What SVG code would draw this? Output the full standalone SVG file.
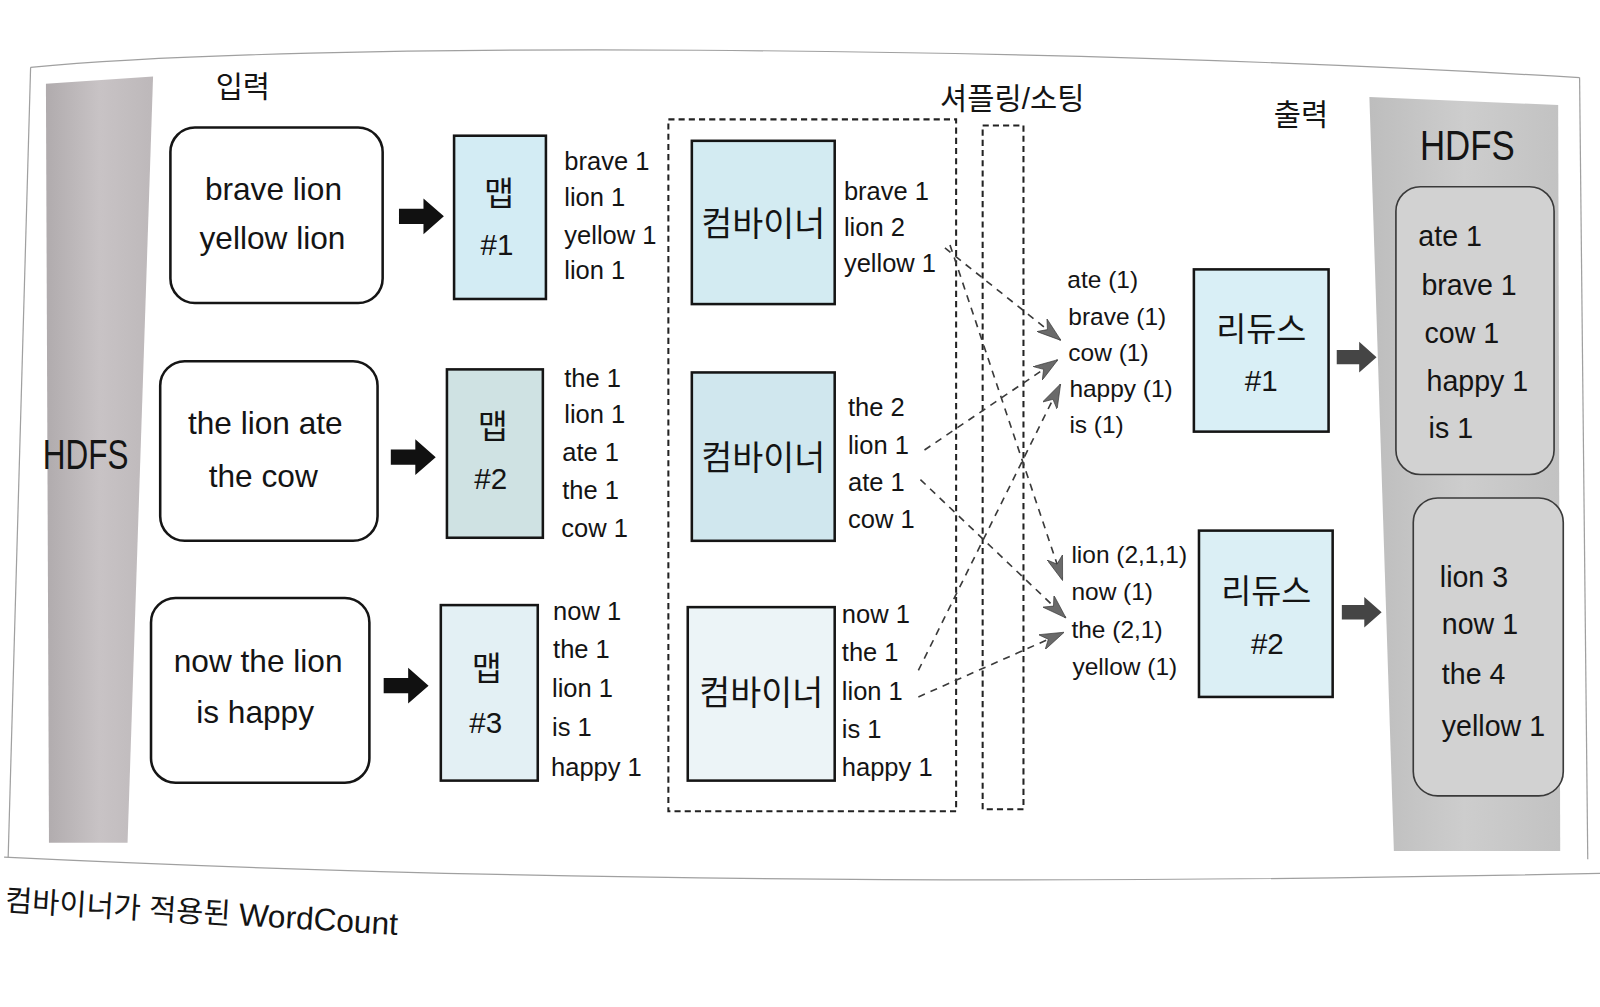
<svg xmlns="http://www.w3.org/2000/svg" width="1600" height="1007" viewBox="0 0 1600 1007">
<defs>
<style>
text { font-family: "Liberation Sans", "Noto Sans CJK KR", sans-serif; fill: #141414; }
.c { text-anchor: middle; dominant-baseline: central; }
.l { dominant-baseline: central; }
.rbox { fill: #ffffff; stroke: #151515; stroke-width: 2.5; }
.box { stroke: #151515; stroke-width: 2.5; }
.dash { fill: none; stroke: #222; stroke-width: 2; stroke-dasharray: 6 4; }
.conn { fill: none; stroke: #3a3a3a; stroke-width: 1.6; stroke-dasharray: 7 6; }
.frame { fill: none; stroke: #a0a0a0; stroke-width: 1.2; }
.t-in { font-size: 31px; }
.t-kv { font-size: 25px; }
.t-ko { font-size: 32px; }
.t-comb { font-size: 33px; }
.t-num { font-size: 29px; }
.t-red { font-size: 24px; }
.t-out { font-size: 28px; }
.t-head { font-size: 29px; }
.t-hdfs { font-size: 42px; }
.inner { fill: #d2d2d2; stroke: #3a3a3a; stroke-width: 1.6; }
</style>
<linearGradient id="gL" x1="0" y1="0" x2="1" y2="0">
<stop offset="0" stop-color="#b0abad"/>
<stop offset="0.5" stop-color="#c8c3c5"/>
<stop offset="1" stop-color="#bdb8ba"/>
</linearGradient>
<linearGradient id="gR" x1="0" y1="0" x2="1" y2="0">
<stop offset="0" stop-color="#bdbdbd"/>
<stop offset="0.5" stop-color="#cdcdcd"/>
<stop offset="1" stop-color="#c2c2c2"/>
</linearGradient>
<path id="blk" d="M0,-7.5 H24 V-17.5 L44,0 L24,17.5 V7.5 H0 Z"/>
<path id="gry" d="M0,-7 H22 V-15 L39,0 L22,15 V7 H0 Z"/>
<marker id="ah" markerUnits="userSpaceOnUse" viewBox="0 0 24 16" markerWidth="24" markerHeight="16" refX="23" refY="8" orient="auto">
<path d="M0,0 L24,8 L0,16 L7,8 Z" fill="#6a6a6a" stroke="#333" stroke-width="0.6"/>
</marker>
</defs>
<rect width="1600" height="1007" fill="#ffffff"/>
<g transform="scale(1.020408)">

<g id="page-frame">
<path class="frame" d="M30,66 C300,40 1000,44 1548,76"/>
<path class="frame" d="M30,66 L8,840"/>
<path class="frame" d="M4,840 Q700,874 1568,856"/>
<path class="frame" d="M1548,76 L1556,842"/>
</g>

<g id="hdfs-input">
<polygon points="45,82 150,75 125,826 48,826" fill="url(#gL)"/>
<text class="c t-hdfs" x="84" y="445" textLength="84" lengthAdjust="spacingAndGlyphs">HDFS</text>
</g>

<g id="hdfs-output">
<polygon points="1342,95 1527,103 1529,834 1366,834" fill="url(#gR)"/>
<text class="c t-hdfs" x="1438" y="142" textLength="93" lengthAdjust="spacingAndGlyphs">HDFS</text>
<g id="output-1">
<rect class="inner" x="1368" y="183" width="155" height="282" rx="24"/>
<text class="l t-out" x="1390" y="231">ate 1</text>
<text class="l t-out" x="1393" y="279">brave 1</text>
<text class="l t-out" x="1396" y="326">cow 1</text>
<text class="l t-out" x="1398" y="373">happy 1</text>
<text class="l t-out" x="1400" y="419">is 1</text>
</g>
<g id="output-2">
<rect class="inner" x="1385" y="488" width="147" height="292" rx="24"/>
<text class="l t-out" x="1411" y="565">lion 3</text>
<text class="l t-out" x="1413" y="612">now 1</text>
<text class="l t-out" x="1413" y="661">the 4</text>
<text class="l t-out" x="1413" y="711">yellow 1</text>
</g>
</g>

<g id="labels">
<text class="c t-head" x="238" y="85">입력</text>
<text class="c t-head" x="992" y="97">셔플링/소팅</text>
<text class="c t-head" x="1275" y="112">출력</text>
</g>

<g id="input-1">
<rect class="rbox" x="167" y="125" width="208" height="172" rx="24"/>
<text class="c t-in" x="268" y="185">brave lion</text>
<text class="c t-in" x="267" y="233">yellow lion</text>
</g>
<g id="input-2">
<rect class="rbox" x="157" y="354" width="213" height="176" rx="24"/>
<text class="c t-in" x="260" y="415">the lion ate</text>
<text class="c t-in" x="258" y="466">the cow</text>
</g>
<g id="input-3">
<rect class="rbox" x="148" y="586" width="214" height="181" rx="24"/>
<text class="c t-in" x="253" y="648">now the lion</text>
<text class="c t-in" x="250" y="698">is happy</text>
</g>

<g id="map-arrows" fill="#111">
<use href="#blk" x="391" y="212"/>
<use href="#blk" x="383" y="448"/>
<use href="#blk" x="376" y="672"/>
</g>

<g id="map-1">
<rect class="box" x="445" y="133" width="90" height="160" fill="#d3ecf4"/>
<text class="c t-ko" x="489" y="190">맵</text>
<text class="c t-num" x="487" y="240">#1</text>
<text class="l t-kv" x="553" y="158">brave 1</text>
<text class="l t-kv" x="553" y="193">lion 1</text>
<text class="l t-kv" x="553" y="230">yellow 1</text>
<text class="l t-kv" x="553" y="265">lion 1</text>
</g>
<g id="map-2">
<rect class="box" x="438" y="362" width="94" height="165" fill="#cfe2e3"/>
<text class="c t-ko" x="483" y="418">맵</text>
<text class="c t-num" x="481" y="469">#2</text>
<text class="l t-kv" x="553" y="370">the 1</text>
<text class="l t-kv" x="553" y="406">lion 1</text>
<text class="l t-kv" x="551" y="443">ate 1</text>
<text class="l t-kv" x="551" y="480">the 1</text>
<text class="l t-kv" x="550" y="517">cow 1</text>
</g>
<g id="map-3">
<rect class="box" x="432" y="593" width="95" height="172" fill="#e3f0f4"/>
<text class="c t-ko" x="477" y="655">맵</text>
<text class="c t-num" x="476" y="708">#3</text>
<text class="l t-kv" x="542" y="599">now 1</text>
<text class="l t-kv" x="542" y="636">the 1</text>
<text class="l t-kv" x="541" y="674">lion 1</text>
<text class="l t-kv" x="541" y="712">is 1</text>
<text class="l t-kv" x="540" y="752">happy 1</text>
</g>

<g id="combiner-area">
<rect class="dash" x="655" y="117" width="282" height="678"/>
</g>
<g id="combiner-1">
<rect class="box" x="678" y="138" width="140" height="160" fill="#d3ebf2"/>
<text class="c t-comb" x="748" y="220">컴바이너</text>
<text class="l t-kv" x="827" y="187">brave 1</text>
<text class="l t-kv" x="827" y="222">lion 2</text>
<text class="l t-kv" x="827" y="258">yellow 1</text>
</g>
<g id="combiner-2">
<rect class="box" x="678" y="365" width="140" height="165" fill="#d0e7ee"/>
<text class="c t-comb" x="748" y="449">컴바이너</text>
<text class="l t-kv" x="831" y="399">the 2</text>
<text class="l t-kv" x="831" y="436">lion 1</text>
<text class="l t-kv" x="831" y="472">ate 1</text>
<text class="l t-kv" x="831" y="509">cow 1</text>
</g>
<g id="combiner-3">
<rect class="box" x="674" y="595" width="144" height="170" fill="#ecf4f7"/>
<text class="c t-comb" x="746" y="680">컴바이너</text>
<text class="l t-kv" x="825" y="602">now 1</text>
<text class="l t-kv" x="825" y="639">the 1</text>
<text class="l t-kv" x="825" y="677">lion 1</text>
<text class="l t-kv" x="825" y="714">is 1</text>
<text class="l t-kv" x="825" y="752">happy 1</text>
</g>

<g id="shuffle-sort">
<rect class="dash" x="963" y="123" width="40" height="670"/>
</g>

<g id="reduce-input-1">
<text class="l t-red" x="1046" y="274">ate (1)</text>
<text class="l t-red" x="1047" y="310">brave (1)</text>
<text class="l t-red" x="1047" y="345">cow (1)</text>
<text class="l t-red" x="1048" y="381">happy (1)</text>
<text class="l t-red" x="1048" y="416">is (1)</text>
</g>
<g id="reduce-input-2">
<text class="l t-red" x="1050" y="543">lion (2,1,1)</text>
<text class="l t-red" x="1050" y="580">now (1)</text>
<text class="l t-red" x="1050" y="617">the (2,1)</text>
<text class="l t-red" x="1051" y="653">yellow (1)</text>
</g>

<g id="reducer-1">
<rect class="box" x="1170" y="264" width="132" height="159" fill="#d9eff6"/>
<text class="c t-ko" x="1236" y="323">리듀스</text>
<text class="c t-num" x="1236" y="373">#1</text>
</g>
<g id="reducer-2">
<rect class="box" x="1175" y="520" width="131" height="163" fill="#dbeff5"/>
<text class="c t-ko" x="1241" y="580">리듀스</text>
<text class="c t-num" x="1242" y="631">#2</text>
</g>

<g id="output-arrows" fill="#454545">
<use href="#gry" x="1310" y="350"/>
<use href="#gry" x="1315" y="600"/>
</g>

<g id="connectors">
<path class="conn" marker-end="url(#ah)" d="M926,243 L1039,333"/>
<path class="conn" marker-end="url(#ah)" d="M931,240 L1041,568"/>
<path class="conn" marker-end="url(#ah)" d="M906,441 L1036,353"/>
<path class="conn" marker-end="url(#ah)" d="M902,470 L1044,605"/>
<path class="conn" marker-end="url(#ah)" d="M900,683 L1042,620"/>
<path class="conn" marker-end="url(#ah)" d="M900,657 L1039,377"/>
</g>

<g id="caption">
<text class="l" x="5" y="882" font-size="29" transform="rotate(3.5 5 882)">컴바이너가 적용된 <tspan font-size="31">WordCount</tspan></text>
</g>
</g>
</svg>
